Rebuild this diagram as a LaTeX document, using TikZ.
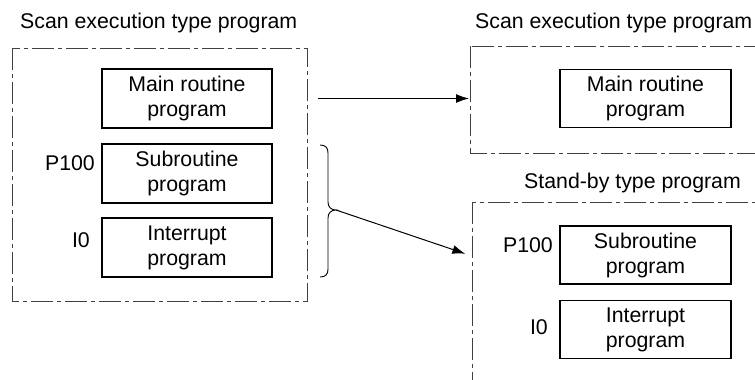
\documentclass[tikz,border=0pt]{standalone}
\usepackage{fontspec}
\setmainfont{Liberation Sans}
\usetikzlibrary{arrows.meta}
\begin{document}
\begin{tikzpicture}[x=1pt,y=-1pt,
  txt/.style={font=\fontsize{21.3}{25}\selectfont, inner sep=0pt},
  prog/.style={draw=black, line width=1.2pt, minimum width=170pt, minimum height=59pt,
     align=center, inner sep=0pt, font=\fontsize{21.3}{25}\selectfont},
  frame/.style={draw=black!75, line width=0.9pt, dash pattern=on 22pt off 4pt on 4pt off 4pt},
  conn/.style={line width=1pt, -{Latex[length=13pt,width=9pt]}}]
\useasboundingbox (0,0) rectangle (755,380);
\clip (0,0) rectangle (755,380);
% titles
\node[txt, anchor=west] (t1) at (20,23) {Scan execution type program};
\node[txt, anchor=west] (t2) at (475,23) {Scan execution type program};
\node[txt, anchor=west] (t3) at (524,183) {Stand-by type program};
% frames
\draw[frame] (12,48) rectangle (307,301);
\draw[frame] (470,46) rectangle (800,153);
\draw[frame] (472,202) rectangle (800,420);
\coordinate (f2w) at (470,98.5);
\coordinate (f3w) at (472,256);
% left programs
\node[prog] (lmain) at (187,98.5) {Main routine\\program};
\node[prog] (lsub) at (187,173.5) {Subroutine\\program};
\node[prog] (lint) at (187,247.5) {Interrupt\\program};
\node[txt, anchor=east] (lp) at (95,163) {P100};
\node[txt, anchor=east] (li) at (90,240) {I0};
% right programs
\node[prog, minimum width=171pt, minimum height=58pt] (rmain) at (645.5,98.5) {Main routine\\program};
\node[prog, minimum width=171pt, minimum height=58pt] (rsub) at (645.5,255) {Subroutine\\program};
\node[prog, minimum width=171pt, minimum height=58pt] (rint) at (645.5,329.5) {Interrupt\\program};
\node[txt, anchor=east] (rp) at (553,245) {P100};
\node[txt, anchor=east] (ri) at (548,327) {I0};
% brace
\draw[line width=0.9pt] (320,145) .. controls (326,145) and (328,148) .. (328,153)
  -- (328,202) .. controls (328,207) and (331,210) .. (336,210)
  .. controls (331,210) and (328,213) .. (328,218)
  -- (328,269) .. controls (328,274) and (326,277) .. (320,277);
\coordinate (bt) at (336,210);
\coordinate (a1) at (318,98.5);
% connectors
\draw[conn, shorten >=1pt] (a1) -- (f2w);
\draw[conn, shorten >=7pt] (bt) -- (f3w);
\end{tikzpicture}
\end{document}
